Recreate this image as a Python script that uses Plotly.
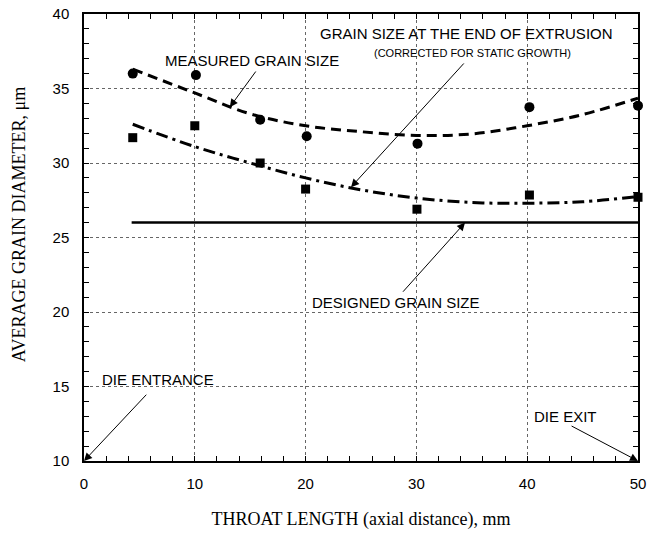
import plotly.graph_objects as go

# Measured grain size (circles)
meas_x = [4.4, 10.1, 15.9, 20.1, 30.1, 40.2, 50.0]
meas_y = [36.0, 35.9, 32.9, 31.8, 31.3, 33.75, 33.85]

# Grain size at the end of extrusion (squares)
end_x = [4.4, 10.0, 15.9, 20.0, 30.05, 40.2, 50.0]
end_y = [31.7, 32.5, 30.0, 28.25, 26.9, 27.85, 27.7]

# Fitted curve through measured grain size (dashed)
fit_meas_x = [4.4, 10, 15, 20, 25, 30, 35, 40, 45, 50]
fit_meas_y = [36.3, 34.7, 33.3, 32.5, 32.1, 31.85, 31.95, 32.5, 33.25, 34.35]

# Fitted curve through end-of-extrusion grain size (dash-dot)
fit_end_x = [4.4, 10, 15, 20, 25, 30, 35, 40, 45, 50]
fit_end_y = [32.6, 31.1, 30.0, 29.0, 28.2, 27.65, 27.35, 27.3, 27.4, 27.75]

# Designed grain size (solid)
design_x = [4.3, 50]
design_y = [26.0, 26.0]

fig = go.Figure()
fig.add_trace(go.Scatter(x=fit_meas_x, y=fit_meas_y, mode="lines", line_shape="spline",
                         line=dict(color="black", width=3, dash="10px,6px")))
fig.add_trace(go.Scatter(x=fit_end_x, y=fit_end_y, mode="lines", line_shape="spline",
                         line=dict(color="black", width=3, dash="12px,5px,3px,5px")))
fig.add_trace(go.Scatter(x=design_x, y=design_y, mode="lines",
                         line=dict(color="black", width=2.5)))
fig.add_trace(go.Scatter(x=meas_x, y=meas_y, mode="markers", cliponaxis=False,
                         marker=dict(symbol="circle", size=10, color="black")))
fig.add_trace(go.Scatter(x=end_x, y=end_y, mode="markers", cliponaxis=False,
                         marker=dict(symbol="square", size=9, color="black")))

ffam = "Liberation Sans, Arial, sans-serif"
sfam = "Liberation Serif, Times New Roman, serif"
texts = [
    ("MEASURED GRAIN SIZE", 15.12, 36.91, 15),
    ("GRAIN SIZE AT THE END OF EXTRUSION", 34.48, 38.69, 15),
    ("(CORRECTED FOR STATIC GROWTH)", 35.02, 37.38, 11),
    ("DESIGNED GRAIN SIZE", 28.2, 20.62, 15),
    ("DIE ENTRANCE", 6.66, 15.49, 15),
    ("DIE EXIT", 43.47, 12.97, 15),
]
annotations = []
for t, x, y, s in texts:
    annotations.append(dict(text=t, x=x, y=y, xref="x", yref="y", showarrow=False,
                            xanchor="center", yanchor="middle",
                            font=dict(family=ffam, size=s, color="black")))
arrows = [
    (15.6, 36.24, 13.16, 33.75),
    (34.4, 36.78, 24.1, 28.38),
    (28.67, 21.26, 34.39, 26.0),
    (5.75, 14.55, 0.0, 10.0),
    (43.87, 12.4, 50.0, 10.0),
]
for ax, ay, x, y in arrows:
    annotations.append(dict(text="", x=x, y=y, ax=ax, ay=ay, xref="x", yref="y",
                            axref="x", ayref="y", showarrow=True, arrowhead=2,
                            arrowsize=1.6, arrowwidth=1, arrowcolor="black", standoff=0))

# y-axis title placed as rotated text
annotations.append(dict(text="AVERAGE GRAIN DIAMETER, μm", xref="paper", yref="paper",
                        x=-0.117, y=0.528, xanchor="center", yanchor="middle",
                        textangle=-90, showarrow=False,
                        font=dict(family=sfam, size=18, color="black")))

fig.update_layout(
    width=649, height=534,
    margin=dict(l=84, r=11, t=14, b=73, autoexpand=False),
    paper_bgcolor="white", plot_bgcolor="white",
    showlegend=False,
    annotations=annotations,
    xaxis=dict(range=[0, 50], dtick=10, tick0=0, automargin=False,
               showline=True, linecolor="black", linewidth=1.5, mirror="allticks",
               ticks="inside", ticklen=5, tickcolor="black",
               minor=dict(dtick=2, ticks="inside", ticklen=5, tickcolor="black", showgrid=False),
               showgrid=True, gridcolor="#666", griddash="dot", gridwidth=1,
               zeroline=False,
               tickfont=dict(family=ffam, size=15, color="black"),
               ticklabelstandoff=8,
               title=dict(text="THROAT LENGTH (axial distance), mm", standoff=22,
                          font=dict(family=sfam, size=18, color="black"))),
    yaxis=dict(range=[10, 40], dtick=5, tick0=10, automargin=False,
               showline=True, linecolor="black", linewidth=1.5, mirror="allticks",
               ticks="inside", ticklen=5, tickcolor="black",
               minor=dict(dtick=1, ticks="inside", ticklen=5, tickcolor="black", showgrid=False),
               showgrid=True, gridcolor="#666", griddash="dot", gridwidth=1,
               zeroline=False,
               tickfont=dict(family=ffam, size=15, color="black"),
               ticklabelstandoff=10),
)

fig.write_html("out.html")
